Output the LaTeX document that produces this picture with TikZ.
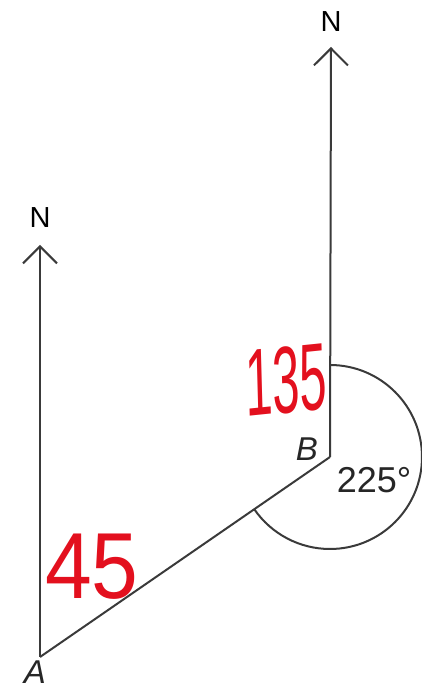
\documentclass[tikz,border=0pt]{standalone}
\usepackage{fontspec}
\setmainfont{Liberation Sans}
\usetikzlibrary{arrows.meta}
\definecolor{lineg}{HTML}{3A3A3A}
\definecolor{hand}{HTML}{E3101E}
\begin{document}
\begin{tikzpicture}[x=1pt,y=1pt,
  leg/.style={draw=lineg,line width=2pt},
  north/.style={leg,-{Straight Barb[length=17pt,width=34pt,line width=2pt]}},
  nlab/.style={font=\fontsize{29}{29}\selectfont,text=black,inner sep=0pt},
  ptlab/.style={font=\fontsize{33}{33}\selectfont\itshape,text=black!85,inner sep=0pt},
  handlab/.style={font=\fontsize{70}{70}\selectfont,text=hand,inner sep=0pt}]
\path[use as bounding box] (0,0) rectangle (421,691);
\coordinate (A) at (40,34);
\coordinate (B) at (330,234);
\coordinate (NA) at (40,446);
\coordinate (NB) at (331,644);
\draw[north] (A) -- (NA);
\draw[north] (B) -- (NB);
\draw[leg] (A) -- (B);
\draw[draw=lineg,line width=2pt] ([shift={(90:92)}]B) arc[start angle=90,end angle=-145.4,radius=92];
\node[nlab] (nA) at (40,473) {N};
\node[nlab] (nB) at (331,669) {N};
\node[ptlab] (lA) at (35,19) {A};
\node[ptlab] (lB) at (307,242) {B};
\node[font=\fontsize{36}{36}\selectfont,text=black!85,inner sep=0pt] (ang) at (374,211) {225°};
\node[handlab,xscale=0.7,yscale=1.36,rotate=3] (h135) at (286,311) {135};
\node[handlab,xscale=1.2,yscale=1.34] (h45) at (92,124) {45};
\end{tikzpicture}
\end{document}
